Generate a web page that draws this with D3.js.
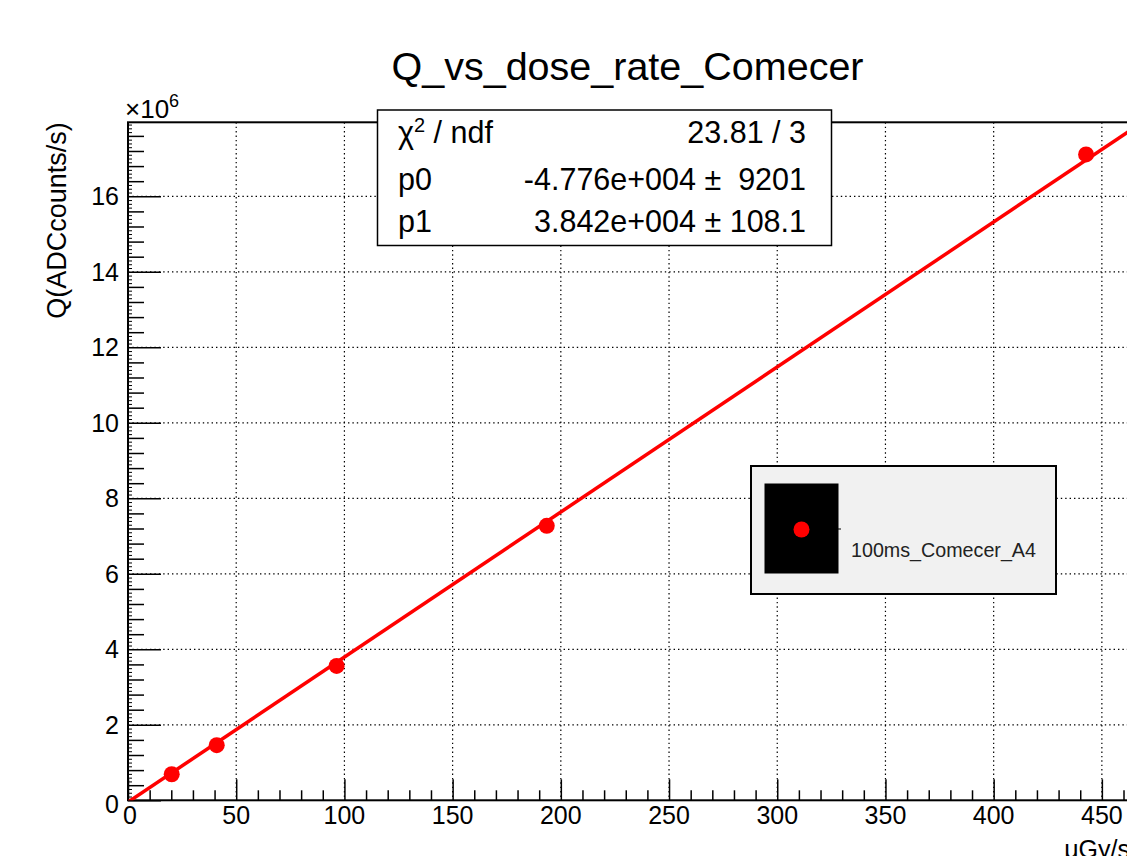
<!DOCTYPE html>
<html>
<head>
<meta charset="utf-8">
<script src="https://cdn.jsdelivr.net/npm/d3@7"></script>
<style>
  html, body { margin: 0; padding: 0; background: #fff; }
  svg { display: block; font-family: "Liberation Sans", Arial, Helvetica, sans-serif; }
  text { white-space: pre; }
</style>
</head>
<body>
<div id="chart"></div>
<script>
// measured points: dose rate (uGy/s) vs charge (ADC counts/s)
const doseRate = [20.2, 41.0, 96.4, 193.5, 442.7];
const charge = [0.69e6, 1.46e6, 3.56e6, 7.27e6, 17.11e6];

// fit results shown in the stats box (pol1: p0 + p1*x)
const fitP0 = -4.776e4;
const fitP1 = 3.842e4;
const statsRows = [
    { label: 'χ', sup: '2', rest: ' / ndf', value: '23.81 / 3' },
    { label: 'p0', value: '-4.776e+004 \u00b1  9201' },
    { label: 'p1', value: '3.842e+004 \u00b1 108.1' }
];

const xTicks = [0, 50, 100, 150, 200, 250, 300, 350, 400, 450];
const yTicks = [0, 2, 4, 6, 8, 10, 12, 14, 16];
const xDomain = [0, 463];
const yDomain = [0, 17.96e6];

const chartTitle = 'Q_vs_dose_rate_Comecer';
const xTitle = 'μGy/s';
const yTitle = 'Q(ADCcounts/s)';
const legendLabel = '100ms_Comecer_A4';

const containerWidth = 1127;
const containerHeight = 856;
const frame = { left: 128, right: 1130, top: 122.3, bottom: 800.3 };

const svg = d3.select('#chart')
    .append('svg')
    .attr('width', containerWidth)
    .attr('height', containerHeight);

const xScale = d3.scaleLinear().domain(xDomain).range([frame.left, frame.right]);
const yScale = d3.scaleLinear().domain(yDomain).range([frame.bottom, frame.top]);

svg.append('defs').append('clipPath').attr('id', 'plotClip')
    .append('rect')
    .attr('x', frame.left).attr('y', frame.top)
    .attr('width', frame.right - frame.left)
    .attr('height', frame.bottom - frame.top);

// dotted grid at major ticks
const grid = svg.append('g').attr('stroke', '#000').attr('stroke-width', 1.2).attr('stroke-dasharray', '1.4,3');
grid.selectAll('.gx')
    .data(xTicks.filter(d => d > 0))
    .join('line')
    .attr('x1', d => xScale(d)).attr('x2', d => xScale(d))
    .attr('y1', frame.top).attr('y2', frame.bottom);
grid.selectAll('.gy')
    .data(yTicks.filter(d => d > 0))
    .join('line')
    .attr('x1', frame.left).attr('x2', frame.right)
    .attr('y1', d => yScale(d * 1e6)).attr('y2', d => yScale(d * 1e6));

// x axis (ticks point up into the frame)
const xAxis = svg.append('g').attr('transform', `translate(0, ${frame.bottom})`);
xAxis.call(d3.axisTop(xScale).tickValues(d3.range(0, 461, 10)).tickSize(10).tickFormat(''));
xAxis.call(g => g.selectAll('.tick line').filter(d => d % 50 === 0).attr('y2', -21));
xAxis.call(g => g.select('.domain').remove());
xAxis.selectAll('.tick line').attr('stroke', '#000').attr('stroke-width', 1.5);

svg.append('g').selectAll('text')
    .data(xTicks)
    .join('text')
    .attr('x', d => xScale(d) + (d === 0 ? 2 : 0))
    .attr('y', 824)
    .attr('text-anchor', 'middle')
    .attr('font-size', 25)
    .text(d => d);

// y axis with three levels of ticks
const yAxis = svg.append('g').attr('transform', `translate(${frame.left}, 0)`);
const yAll = d3.range(0, 180).map(i => i * 1e5);
yAxis.call(d3.axisRight(yScale).tickValues(yAll).tickSize(4).tickFormat(''));
yAxis.call(g => g.selectAll('.tick line')
    .attr('x2', (d, i) => i % 20 === 0 ? 33 : (i % 4 === 0 ? 16 : 4))
    .attr('stroke-width', (d, i) => i % 4 === 0 ? 1.5 : 1));
yAxis.call(g => g.select('.domain').remove());
yAxis.selectAll('.tick line').attr('stroke', '#000');

svg.append('g').selectAll('text')
    .data(yTicks)
    .join('text')
    .attr('x', 119)
    .attr('y', d => yScale(d * 1e6) + (d === 0 ? 13 : 9))
    .attr('text-anchor', 'end')
    .attr('font-size', 25)
    .text(d => d);

const expLabel = svg.append('text').attr('x', 125).attr('y', 118).attr('font-size', 26);
expLabel.append('tspan').text('×10');
expLabel.append('tspan').attr('dy', -11).attr('font-size', 18).text('6');

// frame
svg.append('rect')
    .attr('x', frame.left).attr('y', frame.top)
    .attr('width', frame.right - frame.left)
    .attr('height', frame.bottom - frame.top)
    .attr('fill', 'none')
    .attr('stroke', '#000')
    .attr('stroke-width', 2);

// fit line
const fitLine = d3.line()
    .x(d => xScale(d))
    .y(d => yScale(fitP0 + fitP1 * d));
svg.append('path')
    .datum(xDomain)
    .attr('clip-path', 'url(#plotClip)')
    .attr('fill', 'none')
    .attr('stroke', '#ff0000')
    .attr('stroke-width', 3.5)
    .attr('d', fitLine);

// data markers
svg.append('g').selectAll('circle')
    .data(doseRate.map((d, i) => ({ x: d, y: charge[i] })))
    .join('circle')
    .attr('cx', d => xScale(d.x))
    .attr('cy', d => yScale(d.y))
    .attr('r', 8)
    .attr('fill', '#ff0000');

// stats box
const stats = svg.append('g');
stats.append('rect')
    .attr('x', 377.5).attr('y', 110)
    .attr('width', 454).attr('height', 135.5)
    .attr('fill', '#fff')
    .attr('stroke', '#000')
    .attr('stroke-width', 1.5);
const rowY = [142.5, 190, 232];
statsRows.forEach((r, i) => {
    const lab = stats.append('text').attr('x', 398).attr('y', rowY[i]).attr('font-size', 30.5);
    lab.append('tspan').text(r.label);
    if (r.sup) {
        lab.append('tspan').attr('dy', -11).attr('font-size', 20).text(r.sup);
        lab.append('tspan').attr('dy', 11).text(r.rest);
    }
    stats.append('text')
        .attr('x', 806).attr('y', rowY[i])
        .attr('text-anchor', 'end')
        .attr('font-size', 30.5)
        .text(r.value);
});

// legend
const legend = svg.append('g');
legend.append('rect')
    .attr('x', 751).attr('y', 466)
    .attr('width', 305).attr('height', 128)
    .attr('fill', '#f1f1f1')
    .attr('stroke', '#000')
    .attr('stroke-width', 2);
legend.append('rect')
    .attr('x', 764.5).attr('y', 483.5)
    .attr('width', 74).attr('height', 90)
    .attr('fill', '#000');
legend.append('line')
    .attr('x1', 838).attr('x2', 841)
    .attr('y1', 529).attr('y2', 529)
    .attr('stroke', '#000');
legend.append('circle')
    .attr('cx', 801.5).attr('cy', 529.5)
    .attr('r', 8)
    .attr('fill', '#ff0000');
legend.append('text')
    .attr('x', 851).attr('y', 557)
    .attr('font-size', 19.7)
    .attr('fill', '#222')
    .text(legendLabel);

// titles
svg.append('text')
    .attr('x', 627.5).attr('y', 80)
    .attr('text-anchor', 'middle')
    .attr('font-size', 39.5)
    .text(chartTitle);

svg.append('text')
    .attr('x', frame.right).attr('y', 858)
    .attr('text-anchor', 'end')
    .attr('font-size', 25)
    .text(xTitle);

svg.append('text')
    .attr('transform', `translate(66, ${frame.top}) rotate(-90)`)
    .attr('text-anchor', 'end')
    .attr('font-size', 27)
    .text(yTitle);
</script>
</body>
</html>
